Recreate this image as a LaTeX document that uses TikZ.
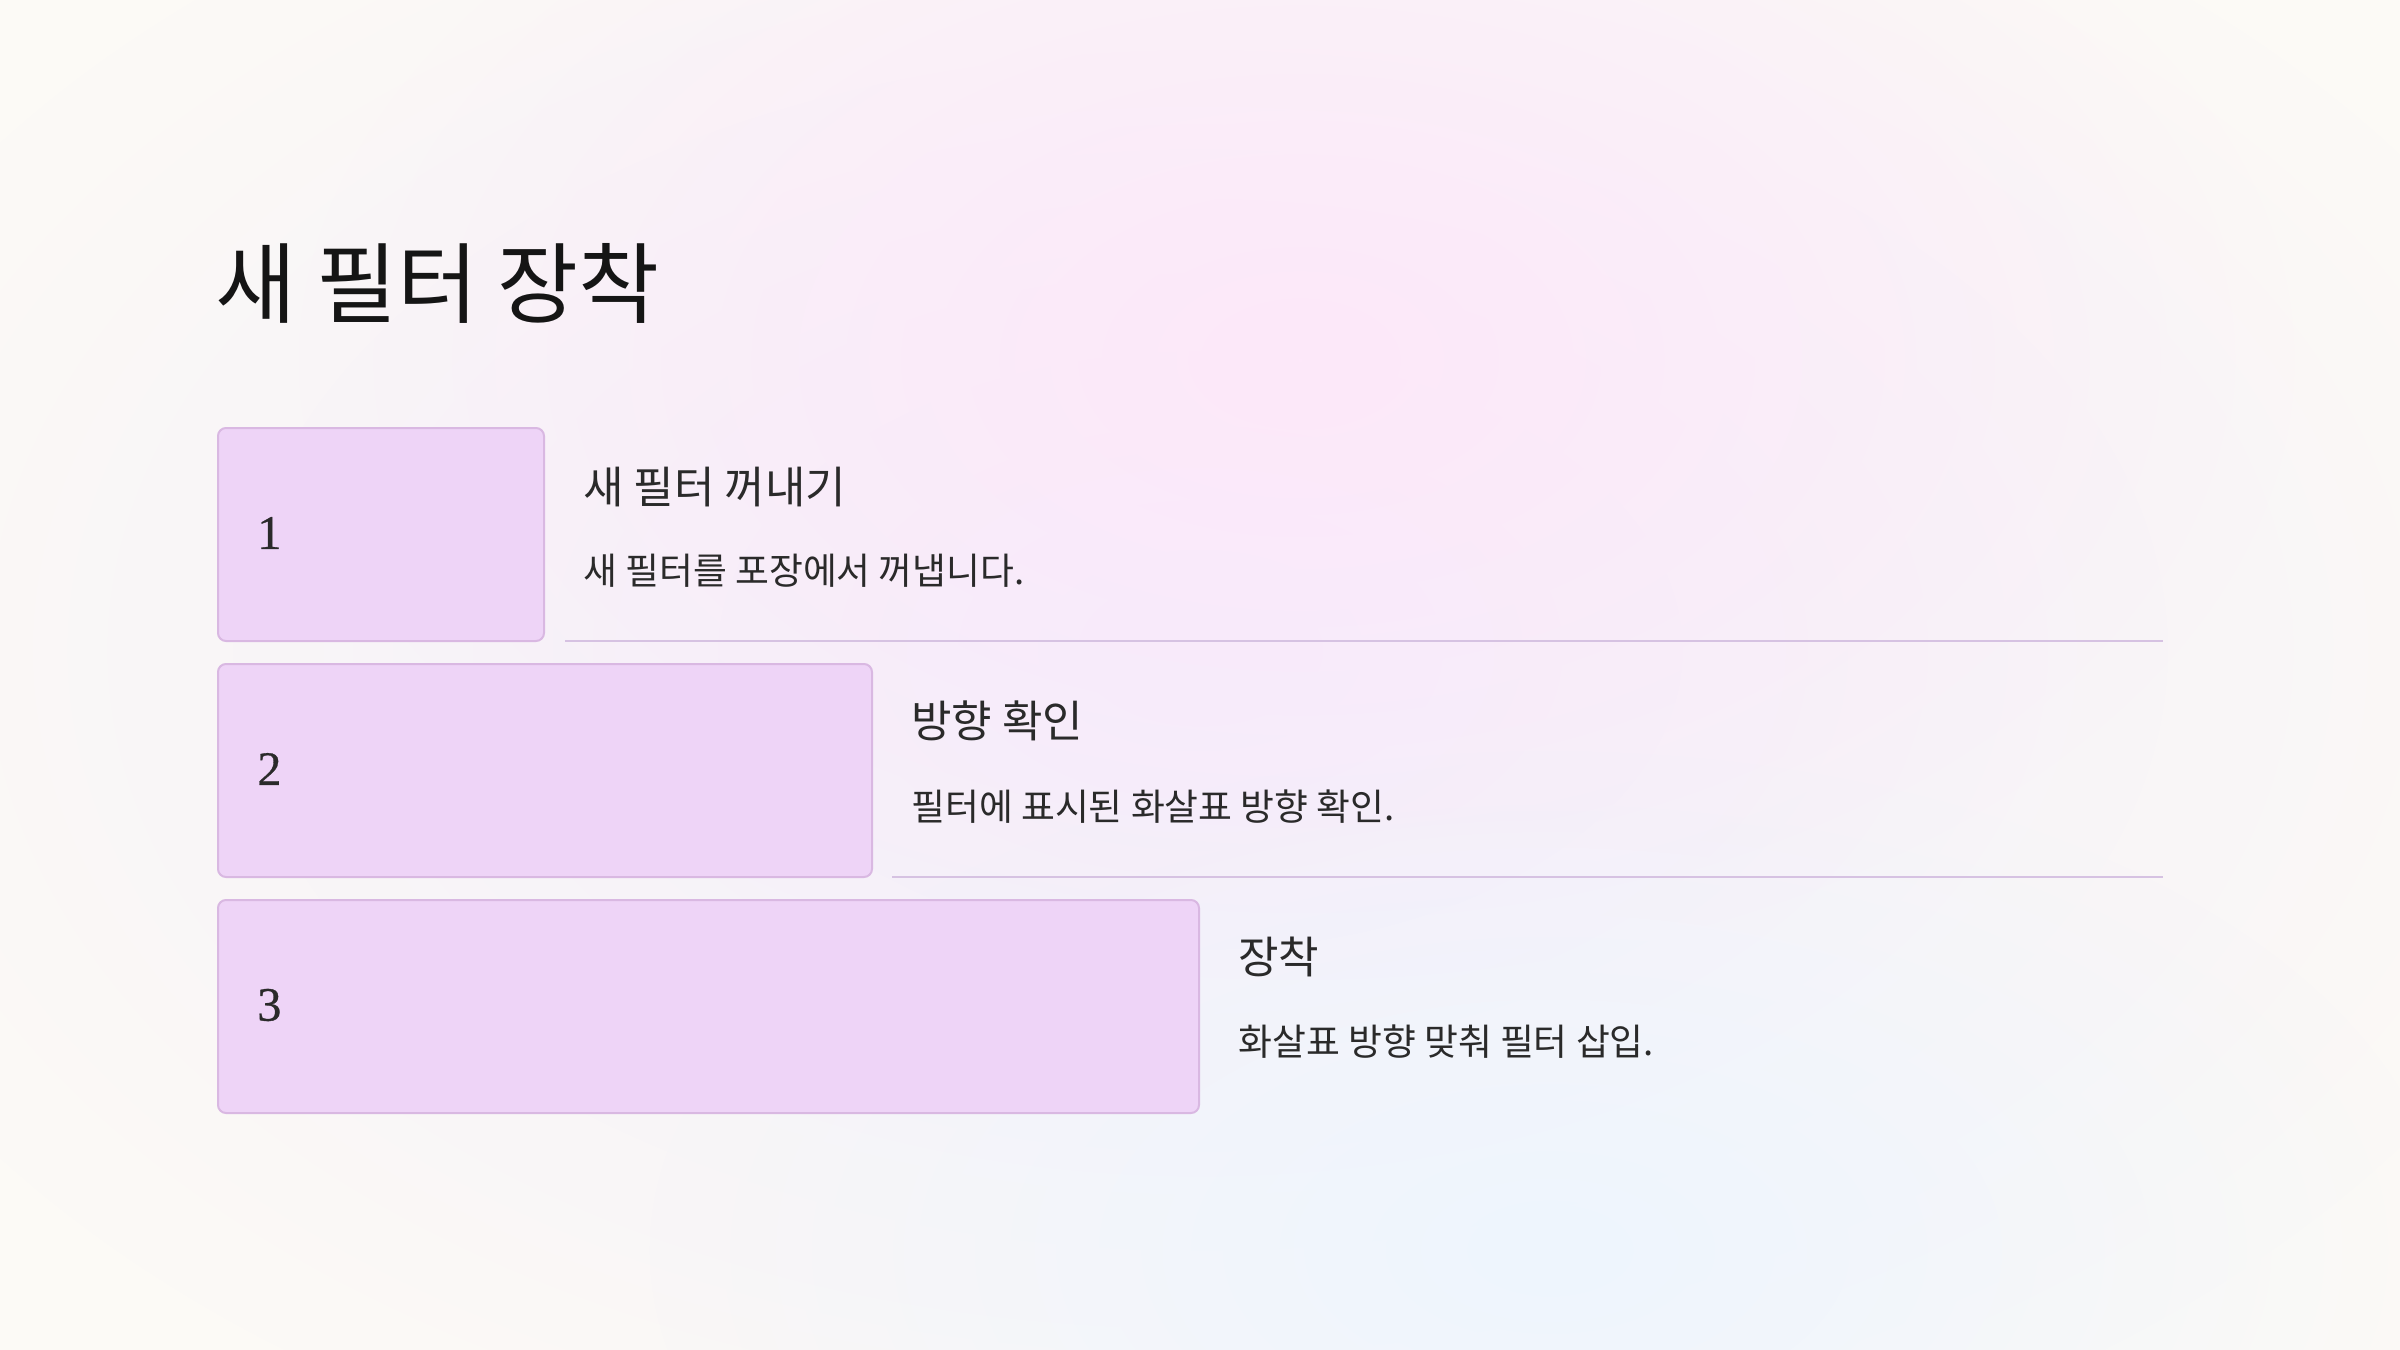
\documentclass[tikz,border=0pt]{standalone}
\usepackage{fontspec}
\setmainfont{Liberation Serif}
\newfontfamily\numfont[FakeBold=0.7]{Liberation Serif}
\newfontfamily\kr{Noto Sans CJK KR}
\usetikzlibrary{fadings}
\definecolor{basec}{HTML}{FCFAF6}
\definecolor{lavc}{HTML}{F3EEFB}
\definecolor{pinkc}{HTML}{FDE8FA}
\definecolor{bluec}{HTML}{EEF5FE}
\definecolor{boxfill}{HTML}{EED4F7}
\definecolor{boxdraw}{HTML}{D9B8E2}
\definecolor{rulec}{HTML}{D6C2E2}
\definecolor{titlec}{HTML}{151515}
\definecolor{textc}{HTML}{2A2A2A}
\tikzfading[name=softglow, inner color=transparent!0, outer color=transparent!100]
\tikzset{
  stepbox/.style={draw=boxdraw, fill=boxfill, line width=1pt, rounded corners=4pt, anchor=north west, inner sep=0pt, minimum height=106.5pt},
  numtext/.style={anchor=west, inner sep=0pt, text=textc, font=\numfont\fontsize{24}{28}\selectfont},
  headtext/.style={anchor=west, inner sep=0pt, text=textc, font=\kr\fontsize{22}{26}\selectfont},
  bodytext/.style={anchor=west, inner sep=0pt, text=textc, font=\kr\fontsize{18.4}{22}\selectfont},
  rulel/.style={draw=rulec, line width=1pt},
}
\begin{document}
\begin{tikzpicture}[x=0.5pt, y=-0.5pt]
\useasboundingbox (0,0) rectangle (2400,1350);
\fill[basec] (0,0) rectangle (2400,1350);
\fill[lavc, path fading=softglow] (1200,650) ellipse [x radius=1450, y radius=900];
\fill[pinkc, path fading=softglow] (1300,360) ellipse [x radius=1000, y radius=620];
\fill[bluec, path fading=softglow] (1550,1250) ellipse [x radius=900, y radius=500];

\node[anchor=base west, inner sep=0pt, text=titlec, font=\kr\fontsize{44}{50}\selectfont] (title) at (215,316) {새 필터 장착};

% row 1
\node[stepbox, minimum width=163pt] (b1) at (217,427) {};
\node[numtext] (n1) at (257,533) {1};
\node[headtext] (h1) at (583,487) {새 필터 꺼내기};
\node[bodytext] (t1) at (583,571) {새 필터를 포장에서 꺼냅니다.};
\coordinate (l1a) at (565,641);
\coordinate (l1b) at (2163,641);
\draw[rulel] (l1a) -- (l1b);

% row 2
\node[stepbox, minimum width=327pt] (b2) at (217,663) {};
\node[numtext] (n2) at (257,769) {2};
\node[headtext] (h2) at (911,721) {방향 확인};
\node[bodytext] (t2) at (911,807) {필터에 표시된 화살표 방향 확인.};
\coordinate (l2a) at (892,877);
\coordinate (l2b) at (2163,877);
\draw[rulel] (l2a) -- (l2b);

% row 3
\node[stepbox, minimum width=490.5pt] (b3) at (217,899) {};
\node[numtext] (n3) at (257,1005) {3};
\node[headtext] (h3) at (1238,957) {장착};
\node[bodytext] (t3) at (1238,1042) {화살표 방향 맞춰 필터 삽입.};
\end{tikzpicture}
\end{document}
